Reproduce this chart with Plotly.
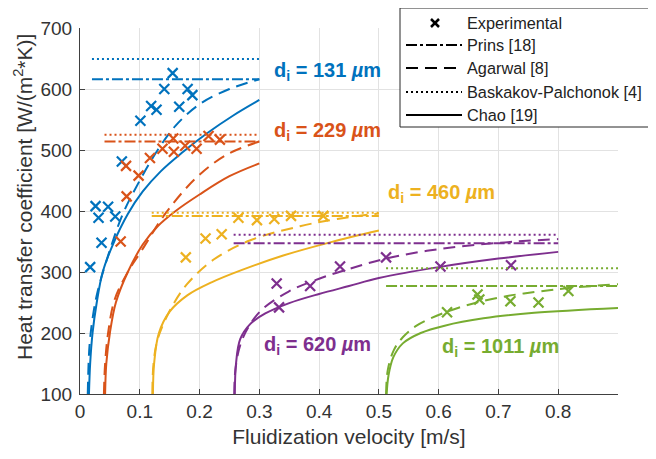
import plotly.graph_objects as go

# ---------------- data ----------------
colors = {"131": "#0072BD", "229": "#D95319", "460": "#EDB120", "620": "#7E2F8E", "1011": "#77AC30"}
sizes = ["131", "229", "460", "620", "1011"]

# experimental points
exp_x = {
    "131": [0.017, 0.026, 0.031, 0.036, 0.047, 0.059, 0.070, 0.101, 0.119, 0.128, 0.141, 0.155, 0.166, 0.180, 0.188],
    "229": [0.068, 0.077, 0.078, 0.098, 0.117, 0.138, 0.156, 0.157, 0.176, 0.195, 0.215, 0.234],
    "460": [0.177, 0.210, 0.237, 0.265, 0.296, 0.325, 0.353, 0.407],
    "620": [0.333, 0.329, 0.385, 0.435, 0.512, 0.603, 0.721],
    "1011": [0.614, 0.665, 0.668, 0.720, 0.767, 0.817],
}
exp_y = {
    "131": [308, 408, 389, 348, 407, 391, 481, 548, 572, 566, 600, 626, 571, 600, 590],
    "229": [350, 474, 424, 458, 487, 502, 519, 497, 507, 502, 523, 517],
    "460": [324, 355, 362, 389, 385, 387, 392, 392],
    "620": [242, 281, 277, 309, 324, 309, 311],
    "1011": [234, 263, 255, 252, 250, 269],
}

# Prins (dash-dot) and Baskakov-Palchonok (dotted): constant values over velocity range
range_x = {"131": [0.02, 0.30], "229": [0.041, 0.30], "460": [0.12, 0.50], "620": [0.257, 0.80], "1011": [0.512, 0.90]}
prins_h = {"131": 616, "229": 514, "460": 392, "620": 347, "1011": 277}
bask_h = {"131": 649, "229": 525, "460": 397, "620": 361, "1011": 306}

# Agarwal (dashed)
agar_x = {
    "131": [0.013, 0.016, 0.022, 0.030, 0.050, 0.072, 0.100, 0.130, 0.160, 0.200, 0.250, 0.300],
    "229": [0.040, 0.042, 0.047, 0.058, 0.080, 0.103, 0.143, 0.195, 0.245, 0.300],
    "460": [0.121, 0.123, 0.130, 0.151, 0.179, 0.223, 0.285, 0.368, 0.430, 0.500],
    "620": [0.258, 0.260, 0.268, 0.282, 0.304, 0.349, 0.400, 0.450, 0.512, 0.603, 0.703, 0.800],
    "1011": [0.512, 0.515, 0.525, 0.540, 0.563, 0.614, 0.664, 0.717, 0.767, 0.820, 0.900],
}
agar_y = {
    "131": [100, 180, 230, 270, 336, 396, 450, 500, 540, 575, 600, 616],
    "229": [100, 150, 200, 255, 300, 335, 396, 455, 492, 514],
    "460": [100, 150, 190, 238, 280, 320, 352, 375, 387, 396],
    "620": [100, 140, 180, 210, 238, 268, 289, 305, 322, 338, 348, 354],
    "1011": [100, 140, 172, 193, 212, 235, 250, 261, 268, 274, 280],
}

# Chao (solid)
chao_x = {
    "131": [0.015, 0.017, 0.021, 0.028, 0.038, 0.055, 0.080, 0.105, 0.135, 0.170, 0.212, 0.257, 0.300],
    "229": [0.042, 0.044, 0.050, 0.060, 0.080, 0.105, 0.130, 0.160, 0.200, 0.250, 0.300],
    "460": [0.122, 0.124, 0.132, 0.150, 0.180, 0.220, 0.270, 0.340, 0.420, 0.500],
    "620": [0.259, 0.261, 0.268, 0.285, 0.310, 0.350, 0.400, 0.450, 0.500, 0.600, 0.700, 0.800],
    "1011": [0.513, 0.516, 0.524, 0.540, 0.570, 0.610, 0.675, 0.760, 0.900],
}
chao_y = {
    "131": [100, 150, 200, 250, 300, 345, 395, 432, 465, 495, 527, 557, 582],
    "229": [100, 150, 200, 250, 300, 345, 375, 400, 427, 457, 478],
    "460": [100, 150, 200, 235, 262, 283, 303, 327, 349, 368],
    "620": [100, 150, 190, 215, 232, 249, 264, 277, 290, 308, 322, 333],
    "1011": [100, 130, 160, 183, 200, 212, 224, 233, 241],
}

label_pos = {"131": (0.321, 628), "229": (0.321, 530), "460": (0.512, 429), "620": (0.304, 180), "1011": (0.603, 177)}

legend_names = ["Experimental", "Prins [18]", "Agarwal [8]", "Baskakov-Palchonok [4]", "Chao [19]"]
legend_dash = [None, "dashdot", "dash", "dot", "solid"]

x_ticks = [0, 0.1, 0.2, 0.3, 0.4, 0.5, 0.6, 0.7, 0.8]
y_ticks = [100, 200, 300, 400, 500, 600, 700]

# ---------------- figure ----------------
OFF = 8                      # default page (body) margin of the html page
W, H = 656 - OFF, 459 - OFF
ML, MT = 80 - OFF, 28 - OFF  # plot area: screen x 80..618, y 28..394
MR, MB = W - (618 - OFF), H - (394 - OFF)
PW, PH = W - ML - MR, H - MT - MB


def px2paper(px, py):
    """screen pixel -> paper coordinates"""
    return (px - OFF - ML) / PW, (H - MB - (py - OFF)) / PH


DASH = {"dash": "12px,7px", "dot": "2px,3px", "dashdot": "11px,3px,3px,3px", "solid": "solid"}
FONT = "Liberation Sans, Arial"

fig = go.Figure()
LW = 2
for s in sizes:
    c = colors[s]
    fig.add_trace(go.Scatter(x=range_x[s], y=[bask_h[s]] * 2, mode="lines",
                             line=dict(color=c, width=LW, dash=DASH["dot"]), showlegend=False))
    fig.add_trace(go.Scatter(x=range_x[s], y=[prins_h[s]] * 2, mode="lines",
                             line=dict(color=c, width=LW, dash=DASH["dashdot"]), showlegend=False))
    fig.add_trace(go.Scatter(x=agar_x[s], y=agar_y[s], mode="lines", line_shape="spline",
                             line=dict(color=c, width=LW, dash=DASH["dash"]), showlegend=False))
    fig.add_trace(go.Scatter(x=chao_x[s], y=chao_y[s], mode="lines", line_shape="spline",
                             line=dict(color=c, width=LW), showlegend=False))
    fig.add_trace(go.Scatter(x=exp_x[s], y=exp_y[s], mode="markers",
                             marker=dict(symbol="x-thin", size=10, line=dict(color=c, width=2.2)),
                             showlegend=False))
    lx, ly = label_pos[s]
    fig.add_annotation(x=lx, y=ly, xref="x", yref="y", xanchor="left", yanchor="middle",
                       text=f"<b>d<sub>i</sub> = {s} <i>µ</i>m</b>", showarrow=False,
                       font=dict(color=c, size=20, family=FONT))

# ---- legend box (drawn in paper coordinates) ----
bx0, by0 = px2paper(400, 127)
bx1, by1 = px2paper(655.5, 8)
fig.add_shape(type="rect", xref="paper", yref="paper", x0=bx0, y0=by0, x1=bx1, y1=by1,
              line=dict(color="#262626", width=1), fillcolor="white", layer="above")
row_py = [23, 45, 68, 92, 115]
for name, dash, py in zip(legend_names, legend_dash, row_py):
    if dash is None:
        ax0, ay0 = px2paper(431, py - 4)
        ax1, ay1 = px2paper(439, py + 4)
        for (xa, ya, xb, yb) in [(ax0, ay0, ax1, ay1), (ax0, ay1, ax1, ay0)]:
            fig.add_shape(type="line", xref="paper", yref="paper", x0=xa, y0=ya, x1=xb, y1=yb,
                          line=dict(color="black", width=2.5), layer="above")
    else:
        lx0, ly0 = px2paper(406, py)
        lx1, _ = px2paper(462, py)
        fig.add_shape(type="line", xref="paper", yref="paper", x0=lx0, y0=ly0, x1=lx1, y1=ly0,
                      line=dict(color="black", width=2, dash=DASH[dash]), layer="above")
    tx, ty = px2paper(465, py)
    fig.add_annotation(x=tx, y=ty, xref="paper", yref="paper", xanchor="left", yanchor="middle",
                       text=name, showarrow=False,
                       font=dict(size=16.3, color="#222222", family=FONT))

# y axis title (placed like the reference, slightly above the axis centre)
ytx, yty = px2paper(23, 197)
fig.add_annotation(x=ytx, y=yty, xref="paper", yref="paper", xanchor="center", yanchor="middle",
                   text="Heat transfer coefficient [W/(m<sup>2</sup>*K)]", textangle=-90, showarrow=False,
                   font=dict(size=21, color="#333333", family=FONT))

tick_font = dict(size=19, color="#333333", family=FONT)
axis_common = dict(showgrid=True, gridcolor="#e2e2e2", gridwidth=1, zeroline=False,
                   showline=True, linecolor="#404040", linewidth=1,
                   ticks="inside", ticklen=5, tickcolor="#404040",
                   tickfont=tick_font, mirror=False)
fig.update_xaxes(range=[0, 0.9], tickvals=x_ticks, ticktext=[f"{v:g}" for v in x_ticks],
                 title=dict(text="Fluidization velocity [m/s]",
                            font=dict(size=21, color="#333333", family=FONT), standoff=8),
                 **axis_common)
fig.update_yaxes(range=[100, 700], tickvals=y_ticks, ticklabelstandoff=3, **axis_common)

fig.update_layout(
    width=W, height=H,
    margin=dict(l=ML, r=MR, t=MT, b=MB, autoexpand=False),
    plot_bgcolor="white", paper_bgcolor="white",
    font=dict(family=FONT, color="#333333"),
    showlegend=False,
)

fig.write_html("out.html")
